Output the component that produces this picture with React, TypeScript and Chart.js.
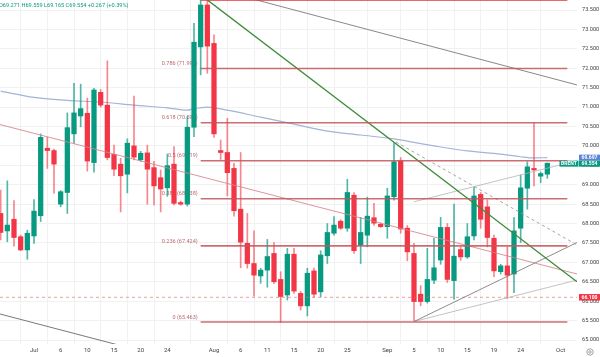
import React, { useEffect, useRef } from "react";
import { Chart, registerables } from "chart.js";

Chart.register(...registerables);

// ---------- data ----------
const dates = [
  "2025-06-25","2025-06-26","2025-06-27","2025-06-29","2025-06-30",
  "2025-07-01","2025-07-02","2025-07-03","2025-07-04",
  "2025-07-06","2025-07-07","2025-07-08","2025-07-09","2025-07-10","2025-07-11",
  "2025-07-13","2025-07-14","2025-07-15","2025-07-16","2025-07-17","2025-07-18",
  "2025-07-20","2025-07-21","2025-07-22","2025-07-23","2025-07-24","2025-07-25",
  "2025-07-27","2025-07-28","2025-07-29","2025-07-30","2025-07-31","2025-08-01",
  "2025-08-03","2025-08-04","2025-08-05","2025-08-06","2025-08-07","2025-08-08",
  "2025-08-10","2025-08-11","2025-08-12","2025-08-13","2025-08-14","2025-08-15",
  "2025-08-17","2025-08-18","2025-08-19","2025-08-20","2025-08-21","2025-08-22",
  "2025-08-24","2025-08-25","2025-08-26","2025-08-27","2025-08-28","2025-08-29",
  "2025-08-31","2025-09-01","2025-09-02","2025-09-03","2025-09-04","2025-09-05",
  "2025-09-07","2025-09-08","2025-09-09","2025-09-10","2025-09-11","2025-09-12",
  "2025-09-14","2025-09-15","2025-09-16","2025-09-17","2025-09-18","2025-09-19",
  "2025-09-21","2025-09-22","2025-09-23","2025-09-24","2025-09-25","2025-09-26",
  "2025-09-28","2025-09-29"
];

const opens = [
  68.26,67.81,68.11,67.66,67.32,67.68,68.20,69.94,69.88,68.50,
  68.80,70.31,70.77,70.84,69.57,71.38,71.05,69.78,69.53,69.27,
  70.00,69.64,69.82,69.44,69.18,68.92,69.53,68.54,68.50,70.48,
  72.55,73.63,72.64,69.88,69.83,69.42,68.37,67.49,66.97,66.65,
  66.80,67.23,66.56,66.16,67.21,66.20,65.88,66.78,66.24,67.17,
  67.75,68.06,67.88,68.73,67.45,67.70,68.15,67.98,67.92,68.69,
  69.61,67.88,67.23,66.18,65.99,66.54,67.06,67.90,66.53,67.33,
  67.14,67.68,68.75,68.43,67.62,66.76,66.91,66.70,67.88,68.91,
  69.42,69.22,69.271
];
const highs = [
  68.86,69.10,68.59,67.70,67.83,68.62,70.31,70.22,69.92,68.85,
  70.85,71.61,71.59,71.23,71.48,71.45,72.19,70.02,69.68,70.18,
  71.28,69.86,70.02,69.60,69.38,69.79,69.98,68.58,70.75,73.16,
  73.75,73.76,72.86,70.15,70.71,69.55,69.83,68.26,67.81,66.85,
  67.59,67.51,66.76,67.36,67.36,66.25,66.85,66.85,67.30,68.00,
  68.18,68.10,69.14,68.80,68.16,68.68,68.52,68.02,68.91,70.07,
  69.70,67.95,67.49,66.40,67.36,67.62,68.16,68.00,68.50,67.40,
  68.00,68.93,68.80,68.61,67.70,66.95,67.40,68.16,69.25,69.59,
  70.58,69.33,69.559
];
const lows = [
  67.58,67.53,67.42,67.30,67.08,67.49,68.05,69.42,68.78,68.43,
  68.26,70.07,70.49,69.35,69.32,71.00,69.64,69.23,68.30,68.79,
  69.64,69.60,68.50,68.48,68.30,68.70,68.48,68.47,68.45,70.24,
  71.83,71.87,70.22,69.65,68.71,68.19,66.86,66.85,66.13,66.46,
  66.36,66.45,65.45,66.03,66.20,65.77,65.62,66.10,66.11,66.97,
  67.70,67.85,67.80,67.23,66.97,67.40,67.95,67.90,67.62,68.60,
  67.75,67.04,65.50,65.88,65.95,66.45,66.95,66.48,66.05,67.05,
  67.10,67.58,67.88,67.40,66.63,66.70,66.07,66.22,67.51,68.37,
  68.97,69.05,69.165
];
const closes = [
  67.77,67.96,67.64,67.32,67.75,68.32,70.22,69.88,69.53,68.82,
  70.47,70.85,70.96,69.61,71.44,71.05,69.70,69.40,69.23,70.07,
  69.71,69.81,69.40,68.97,68.89,69.49,68.52,68.50,70.48,72.67,
  73.63,72.57,70.31,69.83,69.31,68.33,67.52,66.97,66.67,66.80,
  67.15,66.50,66.12,67.21,66.26,65.88,66.72,66.18,67.19,67.77,
  67.96,67.88,68.80,67.30,67.77,68.19,68.01,67.92,68.71,69.59,
  67.86,67.27,65.99,65.99,66.56,66.86,67.90,66.56,67.16,67.14,
  67.66,68.71,68.11,67.64,66.78,66.91,66.67,67.81,68.92,69.46,
  69.38,69.287,69.554
];

// moving average, sampled at bar indices
const maIndex = [0, 5, 10, 15, 20, 25, 28, 29, 31, 34, 39, 44, 49, 54, 59, 65, 70, 75, 78, 80, 82];
const maValues = [71.41, 71.25, 71.17, 71.13, 71.05, 70.98, 70.92, 70.96, 71.00, 70.92, 70.74, 70.56, 70.38, 70.28, 70.18, 70.00, 69.87, 69.79, 69.72, 69.69, 69.697];

// fibonacci retracement
const fibRatios = ["0", "0.236", "0.382", "0.5", "0.618", "0.786", "1"];
const fibPrices = [65.463, 67.424, 68.638, 69.619, 70.598, 71.994, 73.772];
const fibFrom = 30;
const fibTo = 85;

// trend lines [index, price]
const greenTrend = [[31, 73.76], [86.45, 66.5]];
const channelUpper = [[30, 74.14], [86.45, 71.57]];
const channelLower = [[-0.1, 65.67], [25, 64.54]];
const pinkTrend = [[-0.1, 70.55], [86.45, 66.7]];
const dashedTrend = [[59.3, 70.1], [86.45, 67.45]];
const fanSteep = [[62, 65.475], [86.45, 67.51]];
const fanFlat = [[62, 65.475], [86.45, 66.545]];
const fanUpper = [[62, 68.56], [86.45, 69.62]];
const alertLevel = 66.1;

// axes
const xTickIndex = [5, 9, 13, 17, 21, 25, 32, 36, 40, 44, 48, 52, 58, 62, 66, 70, 74, 78, 84];
const xTickLabels = ["Jul", "6", "10", "15", "20", "24", "Aug", "6", "11", "15", "20", "25", "Sep", "5", "10", "15", "19", "24", "Oct"];
const yTicks = [65, 65.5, 66, 66.5, 67, 67.5, 68, 68.5, 69, 69.5, 70, 70.5, 71, 71.5, 72, 72.5, 73, 73.5];

const header = "O69.271 H69.559 L69.165 C69.554 +0.267 (+0.39%)";
const symbol = "BRENT";
const lastPrice = 69.554;
const maLast = 69.697;

const UP = "#089981";
const DOWN = "#f23645";

function lineDs(pts: number[][], color: string, width: number, dash: number[] = []) {
  return {
    type: "line" as const,
    data: pts.map((p) => ({ x: p[0], y: p[1] })),
    borderColor: color,
    borderWidth: width,
    borderDash: dash,
    pointRadius: 0,
    tension: 0,
    fill: false,
    order: 0,
  };
}

function box(ctx: CanvasRenderingContext2D, x: number, top: number, w: number, h: number, bg: string, text: string) {
  ctx.fillStyle = bg;
  ctx.fillRect(x, top, w, h);
  ctx.fillStyle = "#ffffff";
  ctx.font = "bold 5px Roboto";
  ctx.textAlign = "center";
  ctx.textBaseline = "middle";
  ctx.fillText(text, x + w / 2, top + h / 2 + 0.3);
}

const overlay = {
  id: "overlay",
  beforeDatasetsDraw(chart: any) {
    const { ctx, scales } = chart;
    const x = scales.x;
    const y = scales.y;
    ctx.save();
    ctx.font = "5.5px Roboto";
    ctx.fillStyle = "#b9686d";
    ctx.textAlign = "right";
    ctx.textBaseline = "bottom";
    const xl = x.getPixelForValue(fibFrom) - 3;
    fibRatios.forEach((r, k) => {
      const py = y.getPixelForValue(fibPrices[k]);
      ctx.fillText(`${r} (${fibPrices[k].toFixed(3)})`, xl, py - 2);
    });
    ctx.restore();
  },
  afterDraw(chart: any) {
    const { ctx, scales } = chart;
    const y = scales.y;
    ctx.save();
    // header
    ctx.font = "5.6px Roboto";
    ctx.fillStyle = UP;
    ctx.textAlign = "left";
    ctx.textBaseline = "middle";
    ctx.fillText(header, -1, 6);
    // price boxes
    const maY = y.getPixelForValue(maLast);
    const h = 6;
    box(ctx, 579, maY - h / 2, 21, h, "#5b84d6", maLast.toFixed(3));
    const gTop = maY + h / 2;
    box(ctx, 579, gTop, 21, h, UP, lastPrice.toFixed(3));
    box(ctx, 559.5, gTop, 19, h, UP, symbol);
    const aY = y.getPixelForValue(alertLevel);
    box(ctx, 579, aY - 3.25, 21, 6.5, DOWN, alertLevel.toFixed(3));
    // settings icon
    ctx.strokeStyle = "#8a8a8a";
    ctx.lineWidth = 0.8;
    ctx.beginPath();
    ctx.arc(590, 352, 3.2, 0, Math.PI * 2);
    ctx.stroke();
    ctx.beginPath();
    ctx.arc(590, 352, 1.2, 0, Math.PI * 2);
    ctx.stroke();
    ctx.restore();
  },
};

export default function App() {
  const ref = useRef<HTMLCanvasElement>(null);

  useEffect(() => {
    if (!ref.current) return;
    const idx = dates.map((_, i) => i);
    const up = idx.map((i) => closes[i] >= opens[i]);
    const chart = new Chart(ref.current, {
      type: "bar",
      data: {
        datasets: [
          lineDs(fibPrices.slice(0, 6).length ? [[fibFrom, fibPrices[6]], [fibTo, fibPrices[6]]] : [], "#e3343f", 2.6),
          ...fibPrices.slice(0, 6).map((p) => lineDs([[fibFrom, p], [fibTo, p]], "rgba(196,84,88,0.85)", 1.6)),
          lineDs(greenTrend, "#3d8b37", 1.3),
          lineDs(channelUpper, "#7a7a7a", 0.9),
          lineDs(channelLower, "#6a6a6a", 0.9),
          lineDs(pinkTrend, "rgba(214,130,140,0.85)", 1),
          lineDs(dashedTrend, "#9a9a9a", 0.9, [3, 3]),
          lineDs(fanSteep, "#707070", 0.8),
          lineDs(fanFlat, "#b4b4b4", 0.8),
          lineDs(fanUpper, "#b4b4b4", 0.8),
          lineDs([[-0.1, alertLevel], [86.45, alertLevel]], "rgba(230,100,100,0.8)", 0.8, [3, 3]),
          {
            type: "bar" as const,
            data: idx.map((i) => ({ x: i, y: [opens[i], closes[i]] })) as any,
            backgroundColor: up.map((u) => (u ? UP : DOWN)),
            barThickness: 4.6,
            minBarLength: 1,
            grouped: false,
            order: 1,
          },
          {
            type: "bar" as const,
            data: idx.map((i) => ({ x: i, y: [lows[i], highs[i]] })) as any,
            backgroundColor: up.map((u) => (u ? "rgba(8,153,129,0.7)" : "rgba(242,54,69,0.6)")),
            barThickness: 1,
            grouped: false,
            order: 2,
          },
          {
            type: "line" as const,
            data: maIndex.map((i, k) => ({ x: i, y: maValues[k] })),
            borderColor: "#a3b4d6",
            borderWidth: 1.2,
            pointRadius: 0,
            tension: 0.4,
            cubicInterpolationMode: "monotone",
            fill: false,
            order: 3,
          },
        ] as any,
      },
      options: {
        responsive: false,
        maintainAspectRatio: false,
        animation: false,
        layout: { padding: 0 },
        plugins: { legend: { display: false }, tooltip: { enabled: false } },
        scales: {
          x: {
            type: "linear",
            min: -0.1,
            max: 86.45,
            bounds: "data",
            offset: false,
            afterBuildTicks: (s: any) => {
              s.ticks = xTickIndex.map((v) => ({ value: v }));
            },
            afterFit: (s: any) => {
              s.height = 13;
              s.paddingLeft = 0;
              s.paddingRight = 0;
            },
            ticks: {
              autoSkip: false,
              maxRotation: 0,
              padding: 3,
              color: "#444",
              font: { size: 6, family: "Roboto" },
              callback: (_v: any, i: number) => xTickLabels[i],
            },
            grid: { color: "#f1f1f1", drawTicks: false, lineWidth: 1 },
            border: { display: false },
          },
          y: {
            type: "linear",
            position: "right",
            min: 64.897,
            max: 73.758,
            bounds: "data",
            afterBuildTicks: (s: any) => {
              s.ticks = yTicks.map((v) => ({ value: v }));
            },
            afterFit: (s: any) => {
              s.width = 23;
              s.paddingTop = 0;
              s.paddingBottom = 0;
            },
            ticks: {
              padding: 5,
              color: "#444",
              font: { size: 5.6, family: "Roboto" },
              callback: (v: any) => Number(v).toFixed(3),
            },
            grid: { color: "#f1f1f1", drawTicks: false, lineWidth: 1 },
            border: { display: false },
          },
        },
      },
      plugins: [overlay],
    });
    return () => chart.destroy();
  }, []);

  return (
    <div style={{ position: "absolute", left: 0, top: 0, width: 600, height: 357, background: "#fff" }}>
      <canvas ref={ref} width={600} height={357} style={{ display: "block" }} />
    </div>
  );
}
